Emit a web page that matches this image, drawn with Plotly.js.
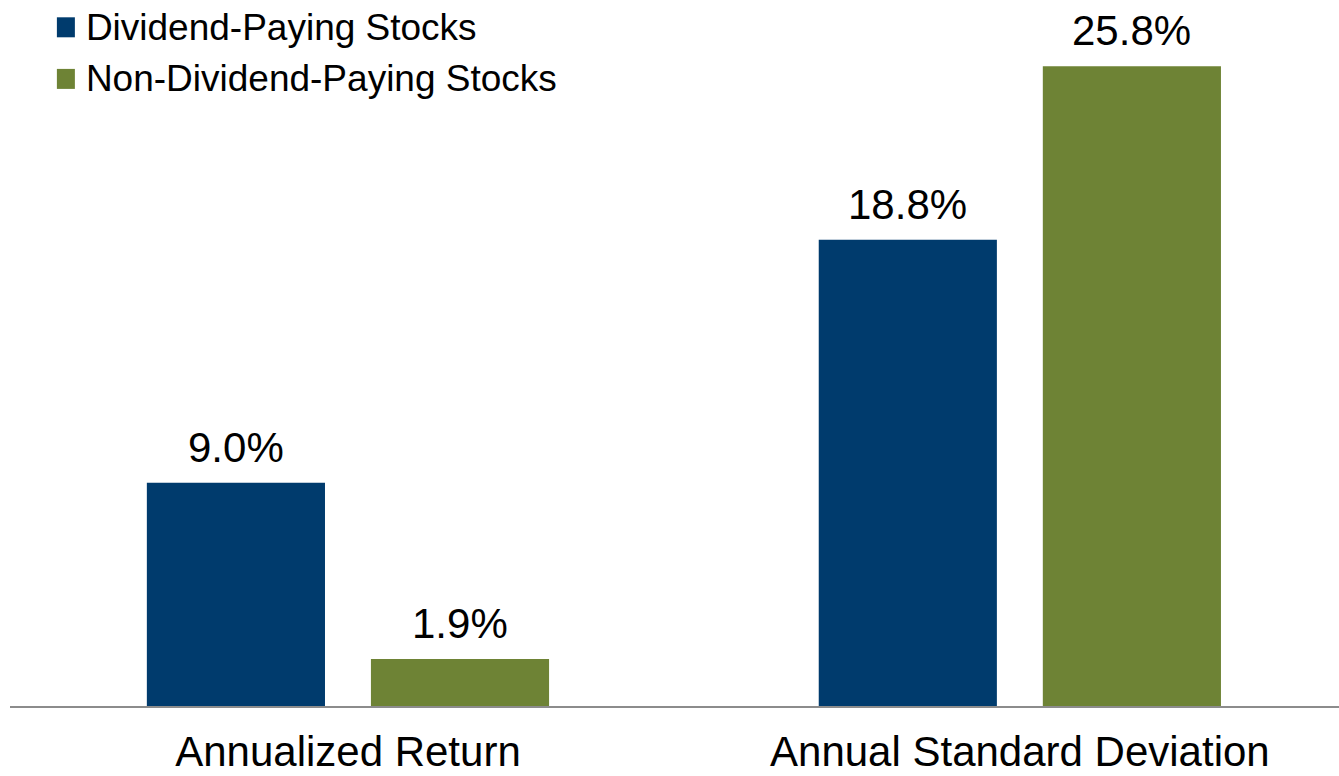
<!DOCTYPE html>
<html>
<head>
<meta charset="utf-8">
<script src="https://cdn.plot.ly/plotly-3.0.1.min.js"></script>
<style>
html, body { margin: 0; padding: 0; background: #fff; }
#chart { width: 1339px; height: 776px; }
g.legendpoints path { d: path("M9,10H-9V-10H9Z"); }
</style>
</head>
<body>
<div id="chart"></div>
<script>
const categories = ["Annualized Return", "Annual Standard Deviation"];
const seriesNames = ["Dividend-Paying Stocks", "Non-Dividend-Paying Stocks"];
const dividendValues = [9.0, 18.8];
const nonDividendValues = [1.9, 25.8];
const seriesColors = ["#003B6D", "#6E8335"];

const FONT = "'Liberation Sans', Arial, Helvetica, sans-serif";
const allSeries = [dividendValues, nonDividendValues];

const traces = allSeries.map((vals, i) => ({
  type: "bar",
  name: '<span style="font-size:37px">' + seriesNames[i] + '</span>',
  x: categories,
  y: vals,
  marker: { color: seriesColors[i], line: { width: 0 } },
  legendgroup: "g" + i,
  hoverinfo: "skip"
}));

// value labels above bars, positioned from the data
const slotPx = 224;
const annotations = [];
allSeries.forEach((vals, i) => {
  vals.forEach((v, k) => {
    annotations.push({
      x: categories[k], y: v, xref: "x", yref: "y",
      text: v.toFixed(1) + "%",
      showarrow: false,
      xanchor: "center", yanchor: "bottom",
      xshift: (i - 0.5) * slotPx,
      yshift: 10,
      font: { family: FONT, size: 42, color: "#000" }
    });
  });
});

const layout = {
  width: 1339, height: 776,
  margin: { l: 10, r: 0, t: 0, b: 70, pad: 0 },
  paper_bgcolor: "#fff", plot_bgcolor: "#fff",
  barmode: "group",
  bargap: 0.333,
  bargroupgap: 0.205,
  showlegend: true,
  legend: {
    x: 0.027, y: 1.0, xanchor: "left", yanchor: "top",
    orientation: "v",
    traceorder: "grouped",
    tracegroupgap: 7,
    font: { family: FONT, size: 32, color: "#000" },
    bgcolor: "rgba(0,0,0,0)",
    itemclick: false, itemdoubleclick: false
  },
  xaxis: {
    type: "category",
    range: [-0.503, 1.475],
    showgrid: false, zeroline: false,
    showline: true, linecolor: "#8c8c8c", linewidth: 1.5,
    ticks: "",
    ticklabelstandoff: 8,
    tickfont: { family: FONT, size: 42, color: "#000" },
    fixedrange: true
  },
  yaxis: {
    range: [0, 28.47],
    showgrid: false, zeroline: false, showline: false,
    showticklabels: false, ticks: "",
    fixedrange: true
  },
  annotations: annotations,
  font: { family: FONT, color: "#000" }
};

Plotly.newPlot("chart", traces, layout, { displayModeBar: false, staticPlot: true });
</script>
</body>
</html>
